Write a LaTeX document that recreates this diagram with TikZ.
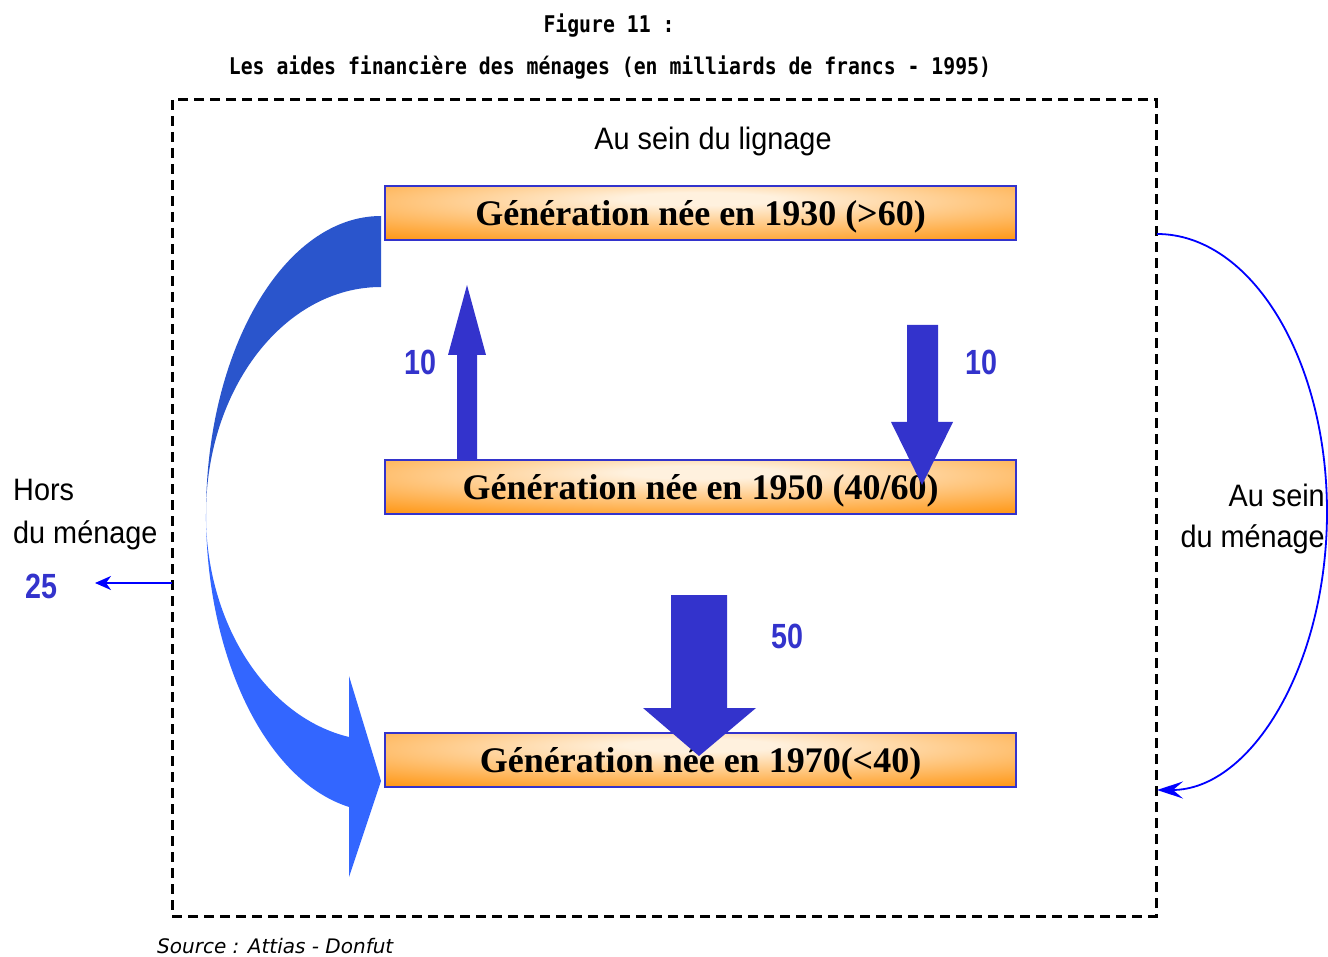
\documentclass[tikz,border=0pt]{standalone}
\usepackage{fontspec}
\setmainfont{Liberation Serif}
\newfontfamily\titlefont{DejaVu Sans Mono}[FakeStretch=0.86]
\newfontfamily\narrowfont{Liberation Sans}[FakeStretch=0.93]
\newfontfamily\numfont{Liberation Sans}[FakeStretch=0.82]
\newfontfamily\boxfont{Liberation Serif}
\newfontfamily\srcfont{DejaVu Sans}
\usetikzlibrary{arrows.meta}
\definecolor{boxorange}{HTML}{FF9A1C}
\definecolor{boxlight}{HTML}{FFF1DE}
\definecolor{boxblue}{HTML}{3333CC}
\definecolor{arrowblue}{HTML}{3333CC}
\definecolor{ribbondark}{HTML}{2A55CC}
\definecolor{ribbonlight}{HTML}{3366FF}
\definecolor{lineblue}{HTML}{0000FF}
\pgfdeclareradialshading{boxshade}{\pgfpoint{0bp}{14bp}}{color(0bp)=(boxlight); color(6bp)=(boxlight); color(40bp)=(boxorange); color(100bp)=(boxorange)}
\tikzset{
  genbox/.style={draw=boxblue, line width=2pt, shading=boxshade, minimum width=631pt, minimum height=54pt, inner sep=0pt, text height=30pt, text depth=4pt, text=black, font=\boxfont\bfseries\fontsize{36}{40}\selectfont},
  titletext/.style={inner sep=0pt, anchor=base, font=\titlefont\bfseries\fontsize{23}{26}\selectfont},
  labeltext/.style={inner sep=0pt, font=\narrowfont\fontsize{31}{36}\selectfont},
  numtext/.style={inner sep=0pt, anchor=base west, text=arrowblue, font=\numfont\bfseries\fontsize{35}{38}\selectfont},
  blockarrow/.style={fill=arrowblue},
  frame/.style={draw=black, line width=3pt, dash pattern=on 10pt off 6pt},
  thinarrow/.style={draw=lineblue, line width=2pt}
}
\begin{document}
\begin{tikzpicture}[x=1pt, y=-1pt]
\useasboundingbox (0,0) rectangle (1328,957);

% titles
\node[titletext] (fig) at (609,33) {Figure 11 :};
\node[titletext] (title) at (610,75) {Les aides financière des ménages (en milliards de francs - 1995)};

% dashed frame
\draw[frame] (172,100) rectangle (1156,916);

\node[labeltext, anchor=base] (lignage) at (713,150) {Au sein du lignage};

% generation boxes
\node[genbox] (g30) at (700.5,213) {Génération née en 1930 (>60)};
\node[genbox] (g50) at (700.5,486.5) {Génération née en 1950 (40/60)};
\node[genbox] (g70) at (700.5,759.5) {Génération née en 1970(<40)};

% big curved ribbon arrow (outside household)
\fill[ribbondark] (381,216) arc[start angle=-90, end angle=-180, x radius=175, y radius=298]
  arc[start angle=180, end angle=270, x radius=175, y radius=227] -- cycle;
\fill[ribbonlight] (206,514) arc[start angle=180, end angle=100.5, x radius=175, y radius=298]
  -- (349,877) -- (381,781) -- (349,676) -- (349,737)
  arc[start angle=100.5, end angle=180, x radius=175, y radius=227] -- cycle;

% block arrows
\fill[blockarrow] (457,460) -- (457,355) -- (448,355) -- (467,285) -- (486,355) -- (477,355) -- (477,460) -- cycle;
\fill[blockarrow] (907,325) -- (938,325) -- (938,422) -- (953,422) -- (922,485) -- (891,422) -- (907,422) -- cycle;
\fill[blockarrow] (671,595) -- (727,595) -- (727,708) -- (756,708) -- (699,756) -- (643,708) -- (671,708) -- cycle;

% numbers
\node[numtext] (n10a) at (404,375) {10};
\node[numtext] (n10b) at (965,375) {10};
\node[numtext] (n50) at (771,648) {50};
\node[numtext] (n25) at (25,598) {25};

% left labels
\node[labeltext, anchor=base west] (hors1) at (13,500) {Hors};
\node[labeltext, anchor=base west] (hors2) at (13,543) {du ménage};
\coordinate (fr25) at (172,583);
\coordinate (tip25) at (95,583);
\draw[thinarrow, -{Stealth[length=16pt,width=14pt,inset=5pt]}] (fr25) -- (tip25);

% right arc
\coordinate (arcstart) at (1157,234);
\draw[lineblue, line width=1.8pt, -{Stealth[length=26pt,width=17pt,inset=10pt]}] (arcstart) arc[start angle=-90, end angle=90, x radius=170, y radius=278];
\node[labeltext, anchor=base east] (sein1) at (1325,506) {Au sein};
\node[labeltext, anchor=base east] (sein2) at (1325,547) {du ménage};

% source
\node[inner sep=0pt, anchor=base west, font=\srcfont\itshape\fontsize{20}{24}\selectfont] (src) at (157,953) {Source : Attias - Donfut};
\end{tikzpicture}
\end{document}
